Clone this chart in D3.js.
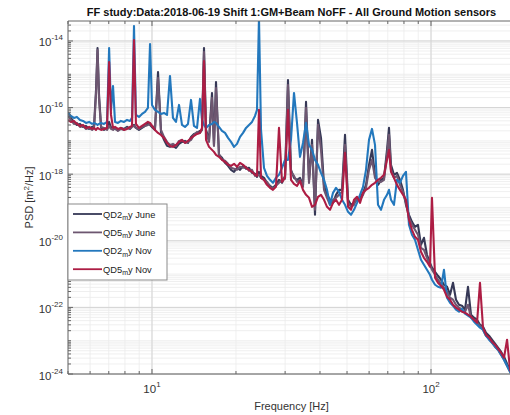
<!DOCTYPE html>
<html><head><meta charset="utf-8">
<script src="https://cdn.jsdelivr.net/npm/d3@7"></script>
<style>
html,body{margin:0;padding:0;background:#fff;}
svg{display:block;font-family:"Liberation Sans",Arial,Helvetica,sans-serif;}
</style></head><body>
<svg id="chart" width="510" height="415"></svg>
<script>
// Frequency bins [Hz]
const freq = [
  5.00,5.12,5.25,5.38,5.52,5.66,5.80,5.95,6.10,6.20,
  6.30,6.38,6.46,6.57,6.73,6.90,7.02,7.13,7.25,7.37,
  7.55,7.74,7.94,8.14,8.34,8.48,8.62,8.76,8.98,9.21,
  9.44,9.67,9.84,10.0,10.25,10.51,10.77,11.04,11.32,11.60,
  11.89,12.19,12.50,12.81,13.13,13.46,13.80,14.14,14.50,14.86,
  15.11,15.36,15.62,16.01,16.41,16.68,16.96,17.38,17.82,18.27,
  18.73,19.20,19.68,20.17,20.68,21.20,21.73,22.27,22.83,23.40,
  23.79,24.18,24.59,25.20,25.83,26.48,27.14,27.82,28.52,29.24,
  29.97,30.72,31.49,32.28,33.09,33.92,34.77,35.65,36.54,37.46,
  38.39,39.36,40.34,41.36,42.39,43.45,44.54,45.66,46.81,47.98,
  49.18,50.42,51.68,52.97,54.30,55.66,57.06,58.48,59.95,61.45,
  62.99,64.57,66.19,67.85,69.55,70.70,71.87,73.67,75.51,77.41,
  79.35,81.33,83.37,85.46,87.60,89.80,92.05,94.35,96.72,99.14,
  100.8,103.4,105.9,108.6,111.3,114.1,117.0,119.9,122.9,126.0,
  129.1,132.4,135.7,139.1,142.6,146.2,149.8,153.6,157.4,161.4,
  165.4,169.6,173.8,178.2,182.7,187.3,192.0,196.8,200.0
];

// log10 of the PSD [m^2/Hz] per sensor and campaign
const qd2JuneLog = [
  -16.13,-16.31,-16.43,-16.52,-16.49,-16.58,-16.55,-16.64,-16.58,-16.55,
  -15.47,-14.21,-15.62,-16.61,-16.67,-16.61,-16.43,-16.61,-16.58,-16.64,
  -16.67,-16.61,-16.64,-16.58,-16.64,-16.55,-16.52,-16.61,-16.67,-16.61,
  -16.55,-16.49,-16.52,-16.58,-16.67,-14.93,-16.73,-16.97,-17.15,-17.18,
  -17.15,-17.21,-17.09,-17.03,-17.00,-17.06,-16.88,-16.79,-16.76,-16.70,
  -16.67,-14.21,-16.67,-16.97,-15.56,-17.12,-15.23,-17.42,-17.51,-17.66,
  -17.75,-17.87,-17.93,-17.81,-17.87,-17.75,-17.84,-17.81,-17.96,-17.99,
  -18.08,-17.93,-18.05,-18.11,-18.26,-18.35,-18.41,-18.32,-18.17,-18.26,
  -18.05,-15.17,-17.87,-18.11,-18.17,-18.11,-18.32,-15.83,-18.17,-16.97,
  -19.22,-16.37,-16.91,-18.32,-18.62,-18.77,-18.86,-18.62,-18.47,-18.47,
  -16.82,-18.77,-18.92,-18.86,-18.77,-18.71,-18.56,-18.32,-17.72,-17.27,
  -18.02,-18.32,-18.17,-18.11,-17.27,-16.61,-17.72,-18.02,-17.96,-18.17,
  -18.47,-18.92,-19.22,-19.43,-19.58,-19.52,-20.12,-19.91,-20.42,-20.66,
  -20.81,-20.93,-21.05,-21.17,-21.32,-21.38,-21.62,-21.26,-21.77,-21.92,
  -21.95,-22.07,-21.38,-22.22,-22.31,-22.37,-22.52,-22.58,-22.76,-22.85,
  -22.97,-23.09,-23.21,-23.33,-23.48,-23.69,-23.87,-24.02,-24.17
];
const qd5JuneLog = [
  -16.25,-16.37,-16.49,-16.46,-16.58,-16.55,-16.64,-16.61,-16.67,-16.61,
  -15.62,-14.27,-15.77,-16.58,-16.61,-16.67,-16.55,-16.64,-16.67,-16.61,
  -16.70,-16.64,-16.67,-16.61,-16.64,-16.58,-16.55,-16.61,-16.64,-16.58,
  -16.55,-16.52,-16.49,-16.55,-16.61,-15.11,-16.67,-16.88,-17.03,-17.12,
  -17.09,-17.15,-17.00,-16.97,-17.06,-17.03,-16.97,-16.82,-16.73,-16.76,
  -16.67,-14.33,-16.73,-17.03,-15.71,-17.15,-15.41,-17.39,-17.57,-17.60,
  -17.69,-17.81,-17.84,-17.87,-17.78,-17.81,-17.78,-17.90,-17.87,-18.05,
  -18.02,-18.02,-18.11,-18.17,-18.23,-18.38,-18.44,-18.35,-18.26,-18.17,
  -18.14,-15.32,-17.93,-18.05,-18.23,-18.17,-18.38,-16.01,-18.26,-17.12,
  -19.07,-16.52,-17.27,-18.47,-18.71,-18.92,-18.77,-18.71,-18.62,-18.53,
  -17.12,-18.86,-18.98,-18.92,-18.71,-18.77,-18.62,-18.41,-17.87,-17.57,
  -18.11,-18.23,-18.23,-18.17,-17.42,-16.82,-17.87,-18.11,-18.05,-18.32,
  -18.53,-18.86,-19.31,-19.52,-19.67,-19.82,-20.21,-20.27,-20.51,-20.72,
  -20.87,-21.02,-21.17,-21.29,-21.41,-21.53,-21.71,-21.77,-21.92,-22.01,
  -22.07,-22.13,-21.92,-22.31,-22.37,-22.46,-22.55,-22.67,-22.85,-22.94,
  -23.06,-23.18,-23.27,-23.42,-23.57,-23.75,-23.93,-24.08,-24.23
];
const qd2NovLog = [
  -16.16,-16.25,-16.31,-16.28,-16.37,-16.40,-16.46,-16.43,-16.49,-16.46,
  -16.49,-16.52,-16.49,-16.46,-16.49,-16.43,-14.21,-16.07,-15.35,-16.43,
  -16.46,-16.40,-16.43,-16.37,-16.40,-16.31,-13.55,-16.22,-16.28,-16.19,
  -16.13,-16.01,-14.09,-15.92,-16.07,-16.13,-16.19,-16.16,-16.22,-15.05,
  -16.31,-16.43,-15.92,-16.52,-16.58,-16.49,-15.77,-16.55,-16.61,-15.74,
  -16.37,-16.52,-16.61,-16.52,-16.49,-16.43,-16.46,-16.58,-16.70,-16.76,
  -16.91,-17.03,-17.18,-17.09,-16.88,-16.76,-16.61,-16.52,-16.43,-16.25,
  -16.07,-13.30,-16.67,-17.81,-18.05,-18.17,-18.26,-18.11,-18.02,-17.81,
  -17.57,-17.57,-16.97,-15.56,-16.46,-17.48,-17.06,-16.46,-17.12,-17.27,
  -17.57,-17.72,-17.96,-18.17,-18.47,-18.92,-18.56,-18.41,-18.53,-18.77,
  -18.92,-19.13,-19.22,-19.07,-18.86,-18.62,-18.38,-17.87,-16.97,-16.64,
  -17.12,-18.92,-19.07,-18.77,-18.62,-18.47,-18.77,-18.92,-18.17,-18.26,
  -18.05,-17.93,-19.52,-19.82,-19.97,-20.27,-20.57,-20.72,-20.87,-21.02,
  -21.17,-21.32,-21.38,-21.41,-20.87,-21.71,-21.86,-21.95,-22.07,-22.13,
  -22.04,-22.19,-22.25,-22.31,-22.43,-22.52,-22.61,-22.67,-22.85,-22.97,
  -23.06,-23.18,-23.27,-23.42,-23.57,-23.75,-23.93,-24.11,-24.23
];
const qd5NovLog = [
  -16.37,-16.43,-16.40,-16.49,-16.55,-16.52,-16.61,-16.58,-16.64,-16.61,
  -16.67,-16.61,-16.64,-16.67,-16.64,-16.61,-14.63,-16.22,-16.61,-16.58,
  -16.64,-16.61,-16.67,-16.64,-16.58,-16.55,-13.97,-16.49,-16.61,-16.55,
  -16.49,-16.43,-16.46,-16.55,-16.67,-16.76,-16.82,-16.91,-17.06,-17.15,
  -17.18,-17.12,-17.03,-16.97,-17.06,-17.00,-16.91,-16.85,-16.79,-16.76,
  -16.61,-14.60,-16.97,-17.18,-17.27,-17.33,-17.42,-17.48,-17.57,-17.63,
  -17.72,-17.75,-17.69,-17.78,-17.66,-17.72,-17.81,-17.87,-17.93,-18.02,
  -18.05,-16.07,-18.11,-18.17,-18.32,-18.41,-18.47,-18.38,-16.61,-18.23,
  -18.11,-16.07,-18.17,-18.29,-18.35,-18.20,-18.47,-18.62,-18.71,-18.98,
  -18.92,-18.68,-18.62,-18.77,-18.98,-19.07,-18.86,-18.77,-18.92,-18.77,
  -17.36,-18.98,-19.07,-18.77,-18.68,-18.86,-18.56,-18.47,-18.41,-18.32,
  -18.26,-18.17,-18.11,-18.02,-17.57,-17.27,-17.93,-18.11,-18.32,-18.47,
  -18.62,-18.77,-19.37,-19.67,-19.88,-19.97,-20.33,-20.51,-20.63,-20.78,
  -18.71,-21.11,-21.26,-21.35,-21.47,-21.68,-21.77,-21.92,-22.01,-22.07,
  -22.13,-22.16,-22.22,-22.28,-22.37,-22.46,-21.26,-22.61,-22.82,-22.91,
  -23.03,-23.12,-23.24,-23.36,-23.51,-22.97,-23.87,-24.05,-24.17
];

const seriesNames = ["QD2", "QD5", "QD2", "QD5"];
const seriesSuffix = ["y June", "y June", "y Nov", "y Nov"];
const seriesColors = ["#363856", "#6d5670", "#2378bd", "#ad1d44"];
const xTickExps = [1, 2];
const yTickExps = [-24, -22, -20, -18, -16, -14];

const titleText = "FF study:Data:2018-06-19 Shift 1:GM+Beam NoFF - All Ground Motion sensors";
const xLabel = "Frequency [Hz]";

const svg = d3.select("#chart");
const L = 68, R = 515, T = 21, B = 374;
const x = d3.scaleLog().domain([5, 200]).range([L, R]);
const y = d3.scaleLog().domain([1e-24, 3.98e-14]).range([B, T]);

// grid
const grid = svg.append("g");
const xMinor = [], yMinor = [];
for (let d = 0; d <= 2; d++) for (let k = 1; k <= 9; k++) {
  const v = k * Math.pow(10, d);
  if (v >= 5 && v <= 200) xMinor.push(v);
}
for (let d = -24; d <= -14; d++) for (let k = 1; k <= 9; k++) {
  const v = k * Math.pow(10, d);
  if (v >= 1e-24 && v <= 3.98e-14) yMinor.push(v);
}
grid.selectAll(".xm").data(xMinor).join("line")
  .attr("x1", d => x(d)).attr("x2", d => x(d)).attr("y1", T).attr("y2", B)
  .attr("stroke", "#ebebeb").attr("stroke-width", 0.8);
grid.selectAll(".ym").data(yMinor).join("line")
  .attr("y1", d => y(d)).attr("y2", d => y(d)).attr("x1", L).attr("x2", R)
  .attr("stroke", "#ebebeb").attr("stroke-width", 0.8);
grid.selectAll(".xM").data(xTickExps).join("line")
  .attr("x1", d => x(Math.pow(10, d))).attr("x2", d => x(Math.pow(10, d))).attr("y1", T).attr("y2", B)
  .attr("stroke", "#d4d4d4").attr("stroke-width", 1);
grid.selectAll(".yM").data(yTickExps).join("line")
  .attr("y1", d => y(Math.pow(10, d))).attr("y2", d => y(Math.pow(10, d))).attr("x1", L).attr("x2", R)
  .attr("stroke", "#d4d4d4").attr("stroke-width", 1);

// data lines
svg.append("clipPath").attr("id", "plotclip").append("rect")
  .attr("x", L).attr("y", T).attr("width", R - L).attr("height", B - T);
const allSeries = [qd2JuneLog, qd5JuneLog, qd2NovLog, qd5NovLog];
const line = d3.line().x(d => x(d[0])).y(d => y(d[1]));
const plot = svg.append("g").attr("clip-path", "url(#plotclip)");
allSeries.forEach((s, i) => {
  const pts = freq.map((f, j) => [f, Math.pow(10, s[j])]);
  plot.append("path").datum(pts).attr("d", line)
    .attr("fill", "none").attr("stroke", seriesColors[i])
    .attr("stroke-width", 2.1).attr("stroke-linejoin", "round");
});

// axes frame and ticks
const axisColor = "#666";
const frame = svg.append("g").attr("stroke", axisColor).attr("fill", "none");
frame.append("line").attr("x1", L).attr("x2", L).attr("y1", T).attr("y2", B);
frame.append("line").attr("x1", L).attr("x2", R).attr("y1", B).attr("y2", B);
frame.append("line").attr("x1", L).attr("x2", R).attr("y1", T).attr("y2", T);
xMinor.forEach(v => {
  const major = xTickExps.some(e => Math.abs(Math.pow(10, e) - v) < 1e-9);
  const len = major ? 5 : 3;
  frame.append("line").attr("x1", x(v)).attr("x2", x(v)).attr("y1", B).attr("y2", B - len);
  frame.append("line").attr("x1", x(v)).attr("x2", x(v)).attr("y1", T).attr("y2", T + len);
});
yMinor.forEach(v => {
  const major = yTickExps.some(e => Math.abs(Math.log10(v) - e) < 1e-9);
  const len = major ? 5 : 3;
  frame.append("line").attr("y1", y(v)).attr("y2", y(v)).attr("x1", L).attr("x2", L + len);
});

// tick labels
const lbl = svg.append("g").attr("fill", "#333").attr("font-size", 11.5);
xTickExps.forEach(e => {
  const t = lbl.append("text").attr("x", x(Math.pow(10, e))).attr("y", 393).attr("text-anchor", "middle");
  t.append("tspan").text("10");
  t.append("tspan").attr("dy", -6).attr("font-size", 8).text(e);
});
yTickExps.forEach(e => {
  const t = lbl.append("text").attr("x", 63).attr("y", y(Math.pow(10, e)) + 5.5).attr("text-anchor", "end");
  t.append("tspan").text("10");
  t.append("tspan").attr("dy", -6).attr("font-size", 8).text(e);
});

// axis labels and title
svg.append("text").attr("x", (L + R) / 2).attr("y", 410).attr("text-anchor", "middle")
  .attr("font-size", 11).attr("fill", "#333").text(xLabel);
const yl = svg.append("text").attr("transform", `translate(33,${(T + B) / 2}) rotate(-90)`)
  .attr("text-anchor", "middle").attr("font-size", 11).attr("fill", "#333");
yl.append("tspan").text("PSD [m");
yl.append("tspan").attr("dy", -4).attr("font-size", 8).text("2");
yl.append("tspan").attr("dy", 4).text("/Hz]");
svg.append("text").attr("x", (L + R) / 2).attr("y", 16).attr("text-anchor", "middle")
  .attr("font-size", 11).attr("font-weight", "bold").attr("fill", "#111").text(titleText);

// legend
const lg = svg.append("g");
lg.append("rect").attr("x", 68).attr("y", 204).attr("width", 99).attr("height", 76)
  .attr("fill", "#fff").attr("stroke", "#8a8a8a");
seriesNames.forEach((n, i) => {
  const cy = 214 + i * 18.4;
  lg.append("line").attr("x1", 73).attr("x2", 102).attr("y1", cy).attr("y2", cy)
    .attr("stroke", seriesColors[i]).attr("stroke-width", 1.8);
  const t = lg.append("text").attr("x", 103).attr("y", cy + 3.5).attr("font-size", 9.3).attr("fill", "#222");
  t.append("tspan").text(n);
  t.append("tspan").attr("dy", 2.5).attr("font-size", 7).text("m");
  t.append("tspan").attr("dy", -2.5).text(seriesSuffix[i]);
});
</script>
</body></html>
